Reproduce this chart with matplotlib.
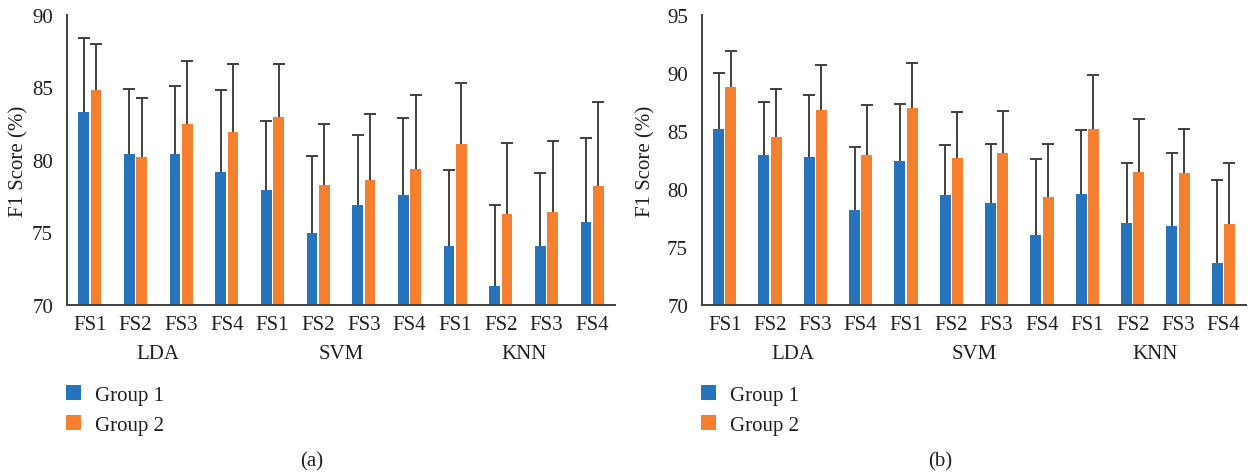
import numpy as np
import matplotlib.pyplot as plt
from matplotlib.transforms import blended_transform_factory

plt.rcParams['font.family'] = ['Liberation Serif', 'DejaVu Serif']

W, H = 1253, 477

classifiers = ['LDA', 'SVM', 'KNN']
feature_sets = ['FS1', 'FS2', 'FS3', 'FS4']

# (a) mean F1 score and the upper end of the error bar
a_group1 = [83.3, 80.4, 80.4, 79.2, 77.9, 75.0, 76.9, 77.6, 74.1, 71.3, 74.1, 75.7]
a_group1_top = [88.4, 84.9, 85.1, 84.8, 82.7, 80.3, 81.7, 82.9, 79.3, 76.9, 79.1, 81.5]
a_group2 = [84.8, 80.2, 82.5, 81.9, 83.0, 78.3, 78.6, 79.4, 81.1, 76.3, 76.4, 78.2]
a_group2_top = [88.0, 84.3, 86.8, 86.6, 86.6, 82.5, 83.2, 84.5, 85.3, 81.2, 81.3, 84.0]

# (b)
b_group1 = [85.2, 82.9, 82.8, 78.2, 82.4, 79.5, 78.8, 76.0, 79.6, 77.1, 76.8, 73.6]
b_group1_top = [90.0, 87.5, 88.1, 83.6, 87.3, 83.8, 83.9, 82.6, 85.1, 82.2, 83.1, 80.8]
b_group2 = [88.8, 84.5, 86.8, 82.9, 87.0, 82.7, 83.1, 79.3, 85.2, 81.5, 81.4, 77.0]
b_group2_top = [91.9, 88.6, 90.7, 87.2, 90.9, 86.6, 86.7, 83.9, 89.8, 86.0, 85.2, 82.2]

BLUE = '#2773BC'
ORANGE = '#F37F2F'
INK = '#231F20'
GREY = '#404040'
FS = 15


def px_rect(left, top, right, bottom):
    return [left / W, 1 - bottom / H, (right - left) / W, (bottom - top) / H]


def draw_panel(ax, g1, g1_top, g2, g2_top, ylim, yticks, ylabel_x):
    x = np.arange(len(g1))
    bottom = ylim[0]
    handles = []
    for vals, tops, off, color, name in [(g1, g1_top, -0.135, BLUE, 'Group 1'),
                                         (g2, g2_top, 0.135, ORANGE, 'Group 2')]:
        vals = np.array(vals)
        err = np.array(tops) - vals
        bars = ax.bar(x + off, vals - bottom, bottom=bottom, width=0.24, color=color, label=name)
        handles.append(bars)
        # upper error only, no cap at the bar top
        _, caps, _ = ax.errorbar(x + off, vals, yerr=[np.zeros_like(err), err], fmt='none',
                                 ecolor=GREY, elinewidth=1.4, capsize=4.2, capthick=1.4)
        caps[0].set_visible(False)
    ax.set_xlim(-0.5, len(g1) - 0.5)
    ax.set_ylim(*ylim)
    ax.set_yticks(yticks)
    ax.set_xticks(x)
    ax.set_xticklabels(feature_sets * len(classifiers))
    ax.tick_params(length=0, labelsize=FS, colors=INK)
    ax.tick_params(axis='x', pad=7)
    ax.tick_params(axis='y', pad=10)
    for s in ['top', 'right']:
        ax.spines[s].set_visible(False)
    for s in ['left', 'bottom']:
        ax.spines[s].set_color(GREY)
        ax.spines[s].set_linewidth(1.4)
    ax.set_ylabel('F1 Score (%)', fontsize=FS, color=INK)
    ax.yaxis.set_label_coords(ylabel_x, 0.5)
    trans = blended_transform_factory(ax.transData, ax.transAxes)
    for i, name in enumerate(classifiers):
        ax.text(i * 4 + 1.5, -0.167, name, transform=trans, ha='center', va='center',
                fontsize=FS, color=INK)
    return handles


fig = plt.figure(figsize=(W / 100, H / 100), dpi=100)

ax_a = fig.add_axes(px_rect(67, 16, 615, 306))
h_a = draw_panel(ax_a, a_group1, a_group1_top, a_group2, a_group2_top,
                 (70, 90), [70, 75, 80, 85, 90], -0.071)

ax_b = fig.add_axes(px_rect(702, 16, 1246, 306))
h_b = draw_panel(ax_b, b_group1, b_group1_top, b_group2, b_group2_top,
                 (70, 95), [70, 75, 80, 85, 90, 95], -0.086)

for ax, h, lx in [(ax_a, h_a, 66), (ax_b, h_b, 701)]:
    ax.legend(handles=h, labels=['Group 1', 'Group 2'],
              loc='upper left', bbox_to_anchor=(lx / W, 1 - 386 / H),
              bbox_transform=fig.transFigure, frameon=False, fontsize=FS,
              borderpad=0, borderaxespad=0,
              handlelength=0.72, handleheight=0.72, handletextpad=0.65, labelspacing=0.5,
              labelcolor=INK)

fig.text(312 / W, 1 - 462 / H, '(a)', ha='center', va='center', fontsize=FS, color=INK)
fig.text(940 / W, 1 - 462 / H, '(b)', ha='center', va='center', fontsize=FS, color=INK)

fig.savefig('out.png', dpi=100, facecolor='white')
